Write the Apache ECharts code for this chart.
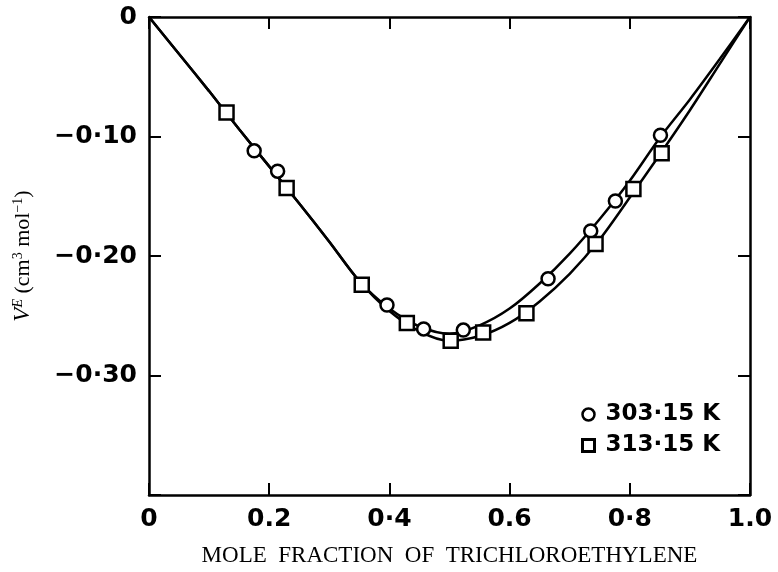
<!DOCTYPE html>
<html>
<head>
<meta charset="utf-8">
<script src="https://cdn.jsdelivr.net/npm/echarts@6/dist/echarts.min.js"></script>
<style>
  html, body { margin: 0; padding: 0; background: #fff; }
  #chart { width: 778px; height: 572px; }
</style>
</head>
<body>
<div id="chart"></div>
<script>
// measured points, 303.15 K (circles)
const x303 = [0.175, 0.214, 0.396, 0.457, 0.523, 0.664, 0.735, 0.776, 0.851];
const y303 = [-0.112, -0.129, -0.241, -0.261, -0.262, -0.219, -0.179, -0.154, -0.099];

// measured points, 313.15 K (squares)
const x313 = [0.129, 0.229, 0.354, 0.429, 0.502, 0.556, 0.628, 0.743, 0.806, 0.853];
const y313 = [-0.080, -0.143, -0.224, -0.256, -0.271, -0.264, -0.248, -0.190, -0.144, -0.114];

// fitted curves
const curveX = [0, 0.05, 0.1, 0.15, 0.2, 0.25, 0.3, 0.35, 0.4, 0.45, 0.5, 0.55, 0.6, 0.65, 0.7, 0.75, 0.8, 0.85, 0.9, 0.95, 1.0];
const curve303 = [0, -0.031, -0.062, -0.094, -0.125, -0.156, -0.188, -0.221, -0.244, -0.259, -0.265, -0.258, -0.244, -0.223, -0.198, -0.169, -0.137, -0.101, -0.069, -0.035, 0];
const curve313 = [0, -0.031, -0.062, -0.094, -0.125, -0.156, -0.188, -0.221, -0.246, -0.263, -0.271, -0.267, -0.256, -0.238, -0.215, -0.186, -0.151, -0.115, -0.078, -0.039, 0];

const xTickLabels = ['0', '0.2', '0·4', '0.6', '0·8', '1.0'];
const yTickLabels = ['0', '−0·10', '−0·20', '−0·30', ''];

const seriesNames = ['303·15 K', '313·15 K'];

const pairs = (xs, ys) => xs.map((x, i) => [x, ys[i]]);

const chart = echarts.init(document.getElementById('chart'));

const axisLine = { show: true, onZero: false, lineStyle: { color: '#000', width: 2.5 } };
const axisTick = { show: true, inside: true, length: 12, lineStyle: { color: '#000', width: 2 } };
const sansFont = '"DejaVu Sans", sans-serif';
const serifFont = '"Liberation Serif", "DejaVu Serif", serif';

const options = {
    animation: false,
    backgroundColor: '#fff',
    grid: { left: 149, right: 28, top: 17, bottom: 73 },
    legend: {
        orient: 'vertical',
        left: 576,
        top: 398,
        itemWidth: 12,
        itemHeight: 12,
        itemGap: 8,
        selectedMode: false,
        textStyle: { fontFamily: sansFont, fontSize: 23, fontWeight: 'bold', color: '#000', padding: [0, 0, 0, 6] },
        data: [
            { name: seriesNames[0], icon: 'circle', itemStyle: { color: '#fff', borderColor: '#000', borderWidth: 2.5 } },
            { name: seriesNames[1], icon: 'rect', itemStyle: { color: '#fff', borderColor: '#000', borderWidth: 3 } }
        ]
    },
    xAxis: [
        {
            type: 'value', min: 0, max: 1, interval: 0.2, position: 'bottom',
            axisLine, axisTick,
            splitLine: { show: false },
            axisLabel: {
                margin: 12,
                fontFamily: sansFont, fontSize: 25, fontWeight: 'bold', color: '#000',
                formatter: (v) => xTickLabels[Math.round(v * 5)]
            },
            name: 'MOLE  FRACTION  OF  TRICHLOROETHYLENE',
            nameLocation: 'middle',
            nameGap: 49,
            nameTextStyle: { fontFamily: serifFont, fontSize: 23, color: '#000' }
        },
        {
            type: 'value', min: 0, max: 1, interval: 0.2, position: 'top',
            axisLine, axisTick,
            splitLine: { show: false },
            axisLabel: { show: false }
        }
    ],
    yAxis: [
        {
            type: 'value', min: -0.4, max: 0, interval: 0.1, position: 'left',
            axisLine, axisTick,
            splitLine: { show: false },
            axisLabel: {
                margin: 12,
                fontFamily: sansFont, fontSize: 25, fontWeight: 'bold', color: '#000',
                formatter: (v) => yTickLabels[Math.round(-v * 10)]
            },
            name: '{v|V}{e|E}{t| (cm}{s|3}{t| mol}{s|−1}{t|)}',
            nameLocation: 'middle',
            nameRotate: 90,
            nameGap: 114,
            nameTextStyle: {
                fontFamily: serifFont, fontSize: 22, color: '#000',
                rich: {
                    v: { fontFamily: serifFont, fontSize: 23, fontStyle: 'italic', color: '#000' },
                    e: { fontFamily: serifFont, fontSize: 14, fontStyle: 'italic', verticalAlign: 'top', padding: [0, 0, 10, 0], color: '#000' },
                    t: { fontFamily: serifFont, fontSize: 22, color: '#000' },
                    s: { fontFamily: serifFont, fontSize: 14, verticalAlign: 'top', padding: [0, 0, 10, 0], color: '#000' }
                }
            }
        },
        {
            type: 'value', min: -0.4, max: 0, interval: 0.1, position: 'right',
            axisLine, axisTick,
            splitLine: { show: false },
            axisLabel: { show: false }
        }
    ],
    series: [
        {
            name: 'fit303', type: 'line', smooth: 0.3, showSymbol: false, silent: true,
            lineStyle: { color: '#000', width: 2.5 },
            data: pairs(curveX, curve303), z: 2
        },
        {
            name: 'fit313', type: 'line', smooth: 0.3, showSymbol: false, silent: true,
            lineStyle: { color: '#000', width: 2.5 },
            data: pairs(curveX, curve313), z: 2
        },
        {
            name: seriesNames[0], type: 'scatter', symbol: 'circle', symbolSize: 13,
            itemStyle: { color: '#fff', borderColor: '#000', borderWidth: 2.5, opacity: 1 },
            data: pairs(x303, y303), z: 5
        },
        {
            name: seriesNames[1], type: 'scatter', symbol: 'rect', symbolSize: 14,
            itemStyle: { color: '#fff', borderColor: '#000', borderWidth: 2.5, opacity: 1 },
            data: pairs(x313, y313), z: 5
        }
    ]
};

chart.setOption(options);
</script>
</body>
</html>
